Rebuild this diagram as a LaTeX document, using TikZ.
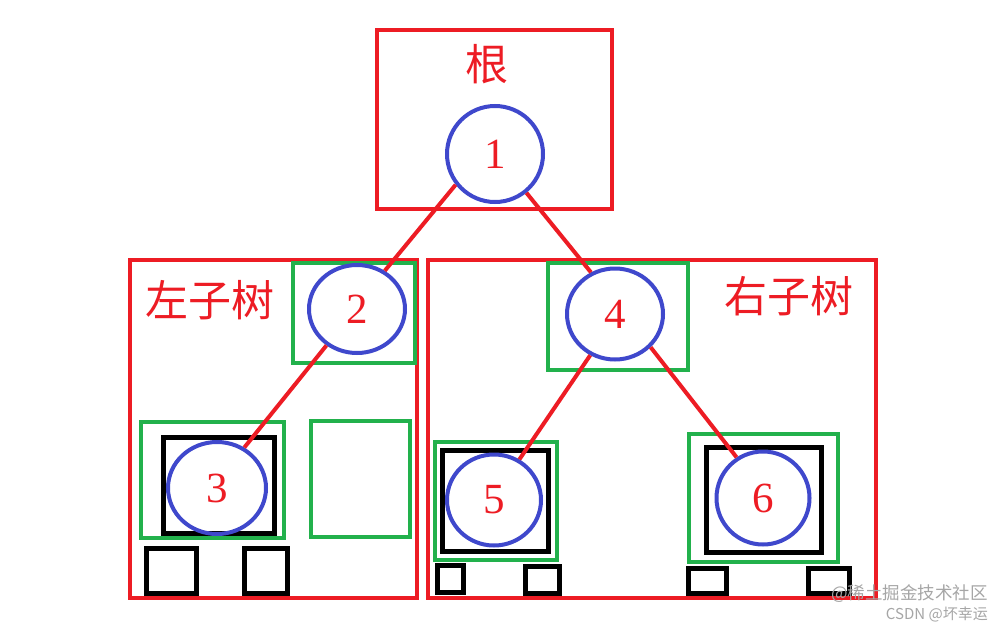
\documentclass[tikz,border=0pt]{standalone}
\usepackage{fontspec}
\setmainfont{Liberation Serif}
\newfontfamily\cjk{Noto Sans CJK SC}
\usetikzlibrary{shapes.geometric}
\definecolor{pred}{RGB}{237,28,36}
\definecolor{pblue}{RGB}{63,72,204}
\definecolor{pgreen}{RGB}{34,177,76}
\tikzset{
  redbox/.style={draw=pred,line width=4pt},
  greenbox/.style={draw=pgreen,line width=4pt},
  blackbox/.style={draw=black,line width=5pt},
  tnode/.style={ellipse,draw=pblue,line width=4pt,inner sep=0pt,text=pred,font=\fontsize{43}{43}\selectfont},
  edge/.style={draw=pred,line width=4pt},
  title/.style={text=pred,font=\cjk\fontsize{43}{43}\selectfont},
  wm/.style={text=black!35,inner sep=0pt}
}
\begin{document}
\begin{tikzpicture}[x=1pt,y=-1pt]
\useasboundingbox[fill=white] (0,0) rectangle (1003,629);
% frames
\draw[redbox] (377,30) rectangle (612,209);
\draw[redbox] (130,260) rectangle (417,598);
\draw[redbox] (428,260) rectangle (876,598);
% green boxes
\draw[greenbox] (293,263) rectangle (415,363);
\draw[greenbox] (141,422) rectangle (284,538);
\draw[greenbox] (311,421) rectangle (410,537);
\draw[greenbox] (548,263) rectangle (688,370);
\draw[greenbox] (435,442) rectangle (557,560);
\draw[greenbox] (689,434) rectangle (838,562);
% black boxes
\draw[blackbox] (163,437) rectangle (274,533);
\draw[blackbox] (442,450) rectangle (548,551);
\draw[blackbox] (706,447) rectangle (821,552);
\draw[blackbox] (146,548) rectangle (196,593);
\draw[blackbox] (244,548) rectangle (287,593);
\draw[blackbox] (437,565) rectangle (463,592);
\draw[blackbox] (525,566) rectangle (559,593);
\draw[blackbox] (688,568) rectangle (726,593);
\draw[blackbox] (808,568) rectangle (849,593);
% titles
\node[title] (tr) at (487,64) {根};
\node[title] (tl) at (210,300) {左子树};
\node[title] (tri) at (789,296) {右子树};
% tree nodes
\node[tnode,minimum width=96pt,minimum height=96pt] (n1) at (495,154) {1};
\node[tnode,minimum width=96pt,minimum height=88pt] (n2) at (357,309) {2};
\node[tnode,minimum width=98pt,minimum height=92pt] (n3) at (217,488) {3};
\node[tnode,minimum width=96pt,minimum height=91pt] (n4) at (615,314) {4};
\node[tnode,minimum width=94pt,minimum height=91pt] (n5) at (494,500) {5};
\node[tnode,minimum width=93pt,minimum height=93pt] (n6) at (763,498) {6};
% edges
\draw[edge] (n1.218) -- (n2.54);
\draw[edge] (n1.-51) -- (n4.120);
\draw[edge] (n2.230) -- (n3.56);
\draw[edge] (n4.239) -- (n5.58);
\draw[edge] (n4.-43) -- (n6.123);
% watermark
\node[wm,anchor=east,font=\cjk\fontsize{17.5}{17.5}\selectfont] (w1) at (988,594) {@稀土掘金技术社区};
\node[wm,anchor=east,font=\cjk\fontsize{15}{15}\selectfont] (w2) at (988,614) {CSDN @坏幸运};
\end{tikzpicture}
\end{document}
